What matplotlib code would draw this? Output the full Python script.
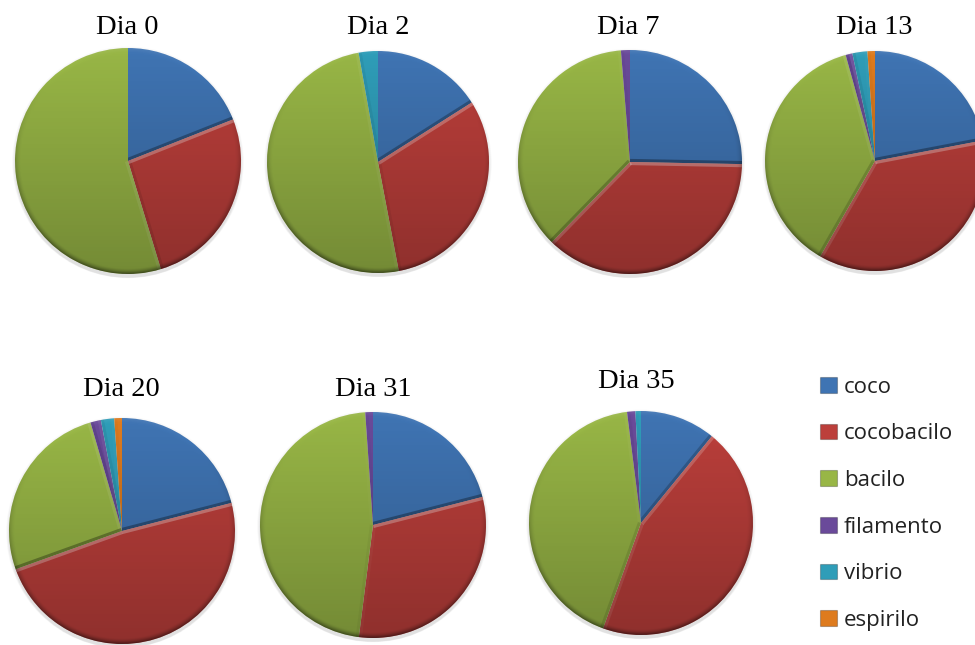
import numpy as np
import matplotlib
matplotlib.use("Agg")
import matplotlib.pyplot as plt
from matplotlib.patches import Circle, Patch

W, H = 975, 645

categories = ["coco", "cocobacilo", "bacilo", "filamento", "vibrio", "espirilo"]
colors = ["#3F74B3", "#BC3F3B", "#98B646", "#6A4A9A", "#2F9DB8", "#DE7B1E"]

dias = ["Dia 0", "Dia 2", "Dia 7", "Dia 13", "Dia 20", "Dia 31", "Dia 35"]

dia_0 = [19.0, 26.3, 54.7, 0, 0, 0]
dia_2 = [16.0, 31.0, 50.2, 0, 2.8, 0]
dia_7 = [25.3, 37.0, 36.4, 1.3, 0, 0]
dia_13 = [22.0, 36.3, 37.4, 1.0, 2.2, 1.1]
dia_20 = [21.0, 48.5, 26.0, 1.5, 1.9, 1.1]
dia_31 = [21.0, 31.0, 46.9, 1.1, 0, 0]
dia_35 = [10.9, 44.6, 42.5, 1.2, 0.8, 0]
valores = [dia_0, dia_2, dia_7, dia_13, dia_20, dia_31, dia_35]

# pixel layout: pie centre x, y, radius, then title x, y
centros = [(128, 161, 113), (378, 162, 111), (630, 162, 112), (875, 161, 110),
           (122, 531, 113), (373, 525, 113), (641, 523, 112)]
titulos = [(127, 28), (378, 28), (628, 28), (874, 28),
           (121, 389), (373, 389), (636, 382)]


def shading():
    # overlay that gives the office "bevel" look
    n = 400
    y, x = np.mgrid[1:-1:n * 1j, -1:1:n * 1j]
    r = np.hypot(x, y)
    rim = np.clip((r - 0.95) / 0.05, 0, 1) ** 1.5
    # signed light: positive lightens, negative darkens
    light = rim * (0.22 * y - 0.14) - 0.24 * (1 - y) / 2
    img = np.zeros((n, n, 4))
    img[..., :3] = (light > 0)[..., None] * 1.0
    img[..., 3] = np.abs(light)
    return img


overlay = shading()
fig = plt.figure(figsize=(W / 100, H / 100), dpi=100, facecolor="white")
pad = 1.12

for vals, (cx, cy, rad) in zip(valores, centros):
    rp = rad * pad
    ax = fig.add_axes([(cx - rp) / W, 1 - (cy + rp) / H, 2 * rp / W, 2 * rp / H])

    # soft shadow
    for i in range(6):
        ax.add_patch(Circle((0, -0.012 - 0.004 * i), 1 + 0.005 * (5 - i), color="black",
                            alpha=0.018, lw=0, zorder=0))

    wedges, _ = ax.pie(vals, colors=colors, startangle=90, counterclock=False,
                       radius=1, wedgeprops={"linewidth": 0})
    for w in wedges:
        w.set_zorder(1)
        if w.theta2 - w.theta1 < 0.01:
            continue
        # radial edges: highlight the upper side of a slice, shade the lower one
        for ang, sign in ((w.theta1, 1), (w.theta2, -1)):
            a = np.radians(ang)
            ny = sign * np.cos(a)
            cor = "white" if ny < 0 else "black"
            line, = ax.plot([0, np.cos(a)], [0, np.sin(a)], color=cor, lw=4.5,
                            alpha=0.32 * abs(ny), zorder=2, solid_capstyle="butt")
            line.set_clip_path(w)

    im = ax.imshow(overlay, extent=(-1, 1, -1, 1), zorder=3, interpolation="bilinear")
    im.set_clip_path(Circle((0, 0), 1, transform=ax.transData))
    ax.set_xlim(-pad, pad)
    ax.set_ylim(-pad, pad)
    ax.set_aspect("equal")
    ax.axis("off")

for nome, (tx, ty) in zip(dias, titulos):
    fig.text(tx / W, 1 - ty / H, nome, family="Liberation Serif", fontsize=20.5,
             ha="center", va="center", color="black")

handles = [Patch(facecolor=c, edgecolor="#00000040", lw=0.8, label=n)
           for c, n in zip(colors, categories)]
fig.legend(handles=handles, loc="upper left", bbox_to_anchor=(813 / W, 1 - 370 / H),
           frameon=False, prop={"family": "Open Sans", "size": 16},
           labelspacing=1.155, handlelength=0.77, handleheight=0.7, handletextpad=0.32,
           borderpad=0.3, borderaxespad=0, labelcolor="#222222")

fig.savefig("out.png", dpi=100)
